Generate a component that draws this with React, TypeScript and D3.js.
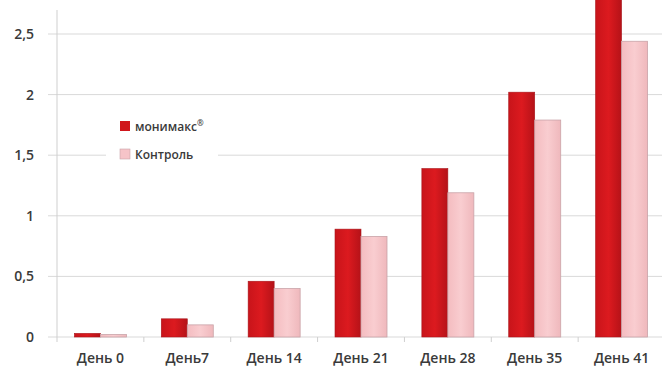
import React from "react";
import * as d3 from "d3";

const categories = ["День 0", "День7", "День 14", "День 21", "День 28", "День 35", "День 41"];
const seriesNames = ["монимакс", "Контроль"];
const monimax = [0.03, 0.15, 0.46, 0.89, 1.39, 2.02, 2.85];
const control = [0.02, 0.1, 0.4, 0.83, 1.19, 1.79, 2.44];
const yTicks = [0, 0.5, 1, 1.5, 2, 2.5];

const W = 662, H = 373;
const left = 57, right = 665, bottom = 337;

export default function App() {
  const x = d3.scaleBand<string>().domain(categories).range([left, right]).paddingInner(0).paddingOuter(0);
  const y = d3.scaleLinear().domain([0, 2.5]).range([bottom, 34]);
  const bw = 26;
  const fmt = (v: number) => String(v).replace(".", ",");
  const font = "'Open Sans', 'Liberation Sans', sans-serif";
  return (
    <svg width={W} height={H} style={{ position: "absolute", left: 0, top: 0, background: "#fff" }}>
      <defs>
        <linearGradient id="gDark" x1="0" x2="1" y1="0" y2="0">
          <stop offset="0" stopColor="#c8141a" />
          <stop offset="0.5" stopColor="#dc1a1f" />
          <stop offset="1" stopColor="#b51218" />
        </linearGradient>
        <linearGradient id="gLight" x1="0" x2="1" y1="0" y2="0">
          <stop offset="0" stopColor="#f4bcc0" />
          <stop offset="0.5" stopColor="#f9cdd0" />
          <stop offset="1" stopColor="#efb8bc" />
        </linearGradient>
      </defs>
      {yTicks.map((t) => (
        <g key={t}>
          <line x1={48} x2={W} y1={y(t)} y2={y(t)} stroke="#d9d9d9" strokeWidth={1} />
          <text x={34} y={y(t)} dy="0.35em" textAnchor="end" fontFamily={font} fontSize={14} fontWeight={600} fill="#3a3a3a">
            {fmt(t)}
          </text>
        </g>
      ))}
      <line x1={left} x2={left} y1={10} y2={bottom + 5} stroke="#cfcfcf" />
      {categories.map((c, i) => (
        <line key={"tk" + i} x1={(x(c) as number) + x.bandwidth()} x2={(x(c) as number) + x.bandwidth()} y1={bottom} y2={bottom + 5} stroke="#cfcfcf" />
      ))}
      {categories.map((c, i) => {
        const cx = (x(c) as number) + x.bandwidth() / 2;
        return (
          <g key={c}>
            <rect x={cx - bw} y={y(monimax[i])} width={bw} height={bottom - y(monimax[i])} fill="url(#gDark)" stroke="#a8161b" strokeWidth={0.6} />
            <rect x={cx} y={y(control[i])} width={bw} height={bottom - y(control[i])} fill="url(#gLight)" stroke="#c9a3a8" strokeWidth={0.8} />
            <text x={cx} y={363} textAnchor="middle" fontFamily={font} fontSize={14} fontWeight={600} fill="#3a3a3a">
              {c}
            </text>
          </g>
        );
      })}
      <g>
        <rect x={106} y={110} width={112} height={56} fill="#fff" />
        <rect x={120} y={121} width={10} height={10} fill="#d0161b" />
        <text x={135} y={127} dy="0.35em" fontFamily={font} fontSize={12} fontWeight={600} fill="#3a3a3a">
          {seriesNames[0]}
          <tspan dy="-5" fontSize={8}>®</tspan>
        </text>
        <rect x={120} y={149} width={10} height={10} fill="#f6c4c8" stroke="#c9a3a8" strokeWidth={0.6} />
        <text x={135} y={155} dy="0.35em" fontFamily={font} fontSize={12} fontWeight={600} fill="#3a3a3a">
          {seriesNames[1]}
        </text>
      </g>
    </svg>
  );
}
